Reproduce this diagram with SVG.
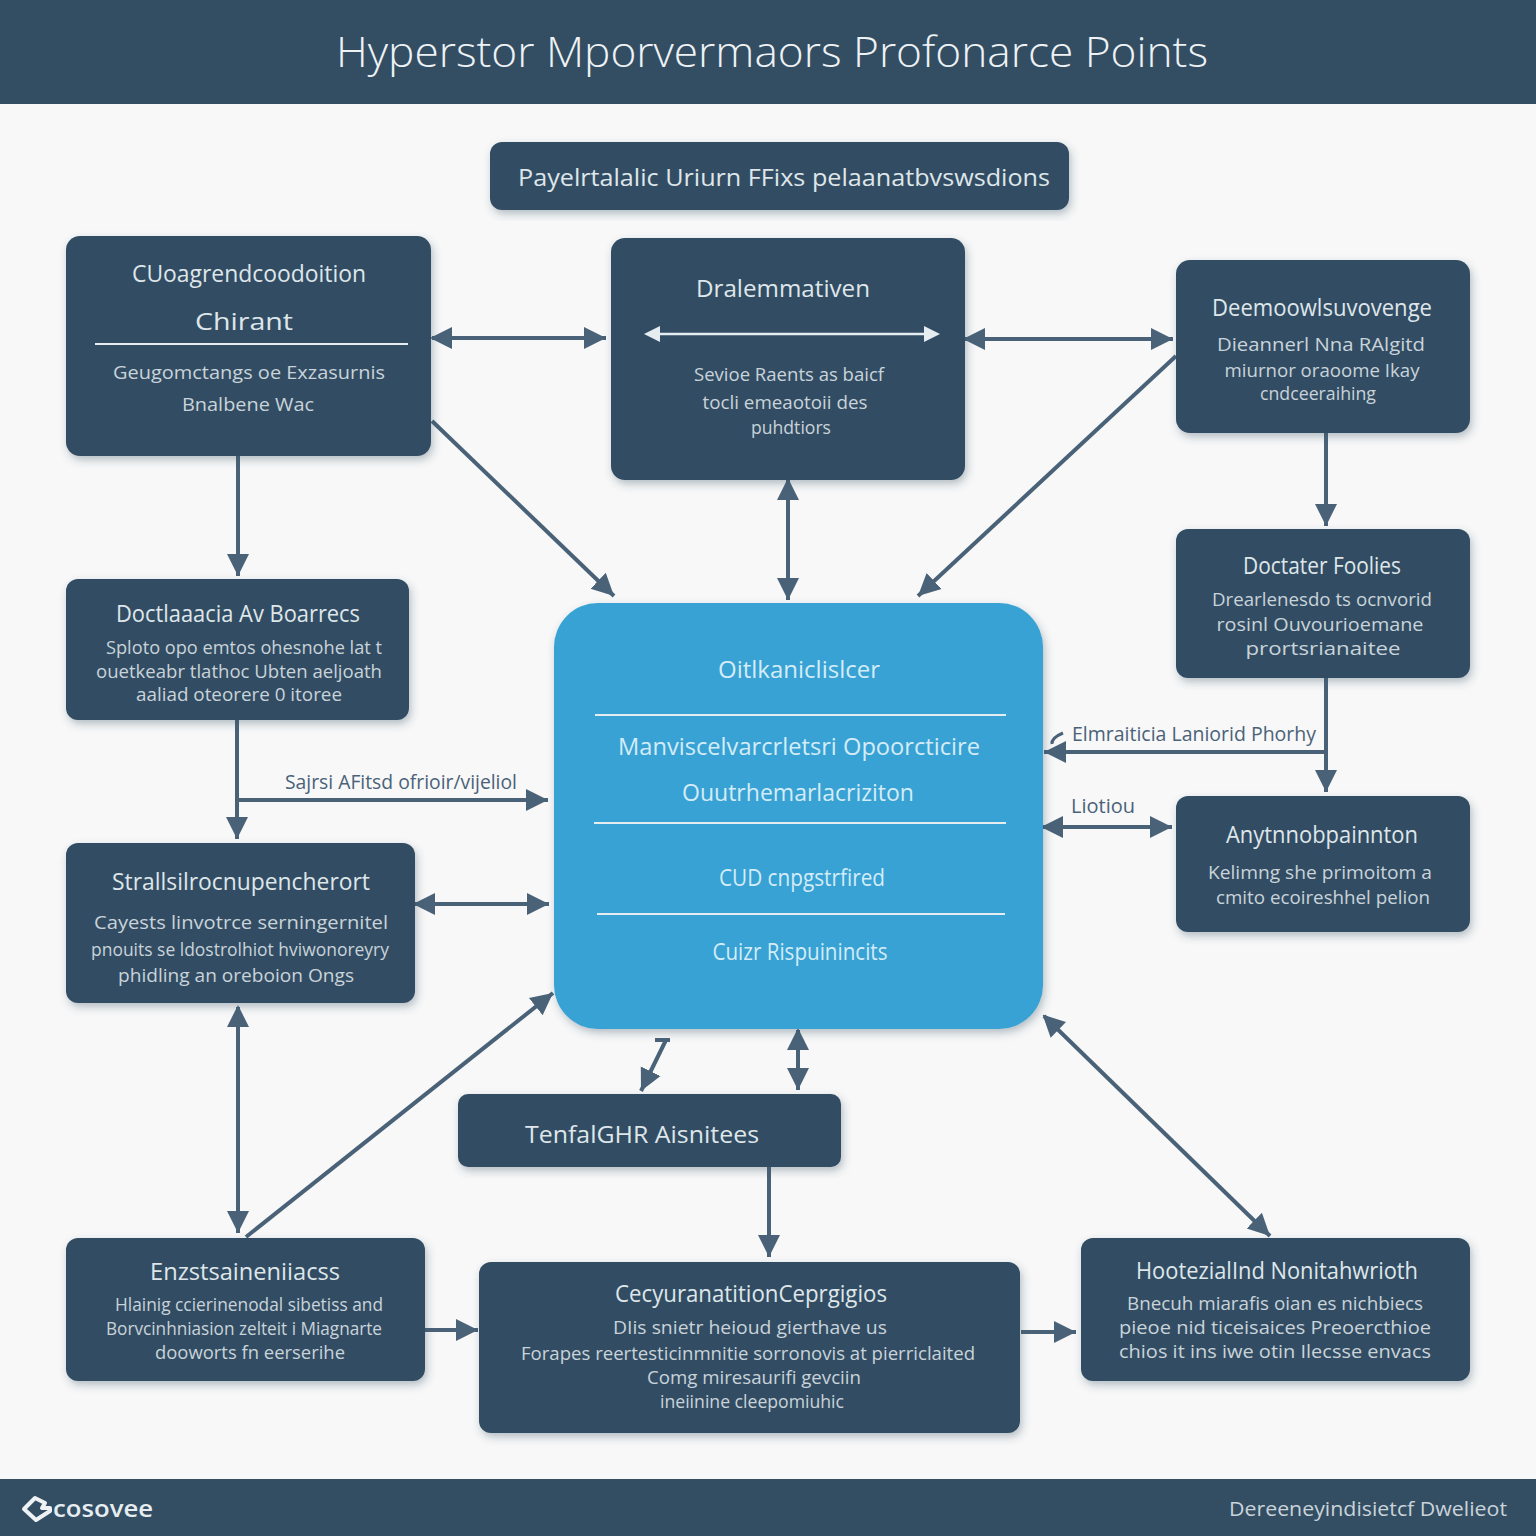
<svg xmlns="http://www.w3.org/2000/svg" width="1536" height="1536" viewBox="0 0 1536 1536">
<style>
text{font-family:"Open Sans","DejaVu Sans",sans-serif;text-anchor:middle;fill:#dfe6ea}
.b{fill:#334e63;filter:url(#s)}
.c{fill:#37a2d4;filter:url(#s)}
.h{font-size:24px}
.m{font-size:19px;fill:#c9d3da}
.l{font-size:20px;fill:#4a6278}
.w{fill:#d4ecf7}
.r{stroke:#e6edf1;stroke-width:2;fill:none}
.a{stroke:#4a6278;stroke-width:4;fill:none}
.d{marker-end:url(#e)}
.t{marker-end:url(#e);marker-start:url(#st)}
</style>
<defs>
<filter id="s" x="-10%" y="-10%" width="120%" height="125%"><feDropShadow dx="2" dy="4" stdDeviation="4" flood-color="#334e63" flood-opacity="0.35"/></filter>
<marker id="e" markerUnits="userSpaceOnUse" markerWidth="24" markerHeight="24" refX="22" refY="12" orient="auto"><path d="M0 1L22 12L0 23Z" fill="#4a6278"/></marker>
<marker id="st" markerUnits="userSpaceOnUse" markerWidth="24" markerHeight="24" refX="2" refY="12" orient="auto"><path d="M22 1L0 12L22 23Z" fill="#4a6278"/></marker>
</defs>
<rect width="1536" height="1536" fill="#f8f8f8"/>
<g id="header"><rect width="1536" height="104" fill="#334e63"/><text x="772" y="67" font-size="43" font-weight="300" textLength="872" lengthAdjust="spacingAndGlyphs" style="fill:#eef2f5">Hyperstor Mporvermaors Profonarce Points</text></g>
<g id="connectors">
<path class="a t" d="M432 338H606"/>
<path class="a t" d="M965 339H1173"/>
<path class="a d" d="M432 421L614 596"/>
<path class="a d" d="M1176 356L918 596"/>
<path class="a t" d="M788 480V600"/>
<path class="a d" d="M1326 433V526"/>
<path class="a d" d="M238 456V576"/>
<path class="a d" d="M237 720V839"/>
<path class="a d" d="M237 800H548"/>
<path class="a d" d="M1326 678V792"/>
<path class="a d" d="M1326 752H1044"/>
<path d="M1063 733Q1051 738 1052 744" stroke="#4a6278" stroke-width="3" fill="none"/>
<path class="a t" d="M1043 827H1172"/>
<path class="a t" d="M415 904H549"/>
<path class="a t" d="M238 1007V1233"/>
<path class="a d" d="M246 1237L553 993"/>
<path class="a t" d="M1044 1016L1270 1236"/>
<path class="a d" d="M666 1040L641 1091"/>
<path d="M655 1040H670" stroke="#4a6278" stroke-width="4"/>
<path class="a t" d="M798 1030V1090"/>
<path class="a d" d="M769 1167V1257"/>
<path class="a d" d="M425 1330H478"/>
<path class="a d" d="M1021 1332H1076"/>
</g>
<g id="top-banner"><rect class="b" x="490" y="142" width="579" height="68" rx="12"/><text class="h" x="784" y="186" textLength="532" lengthAdjust="spacingAndGlyphs">Payelrtalalic Uriurn FFixs pelaanatbvswsdions</text></g>
<g id="n1"><rect class="b" x="66" y="236" width="365" height="220" rx="14"/>
<text class="h" x="249" y="282" textLength="234" lengthAdjust="spacingAndGlyphs">CUoagrendcoodoition</text>
<text class="h" x="244" y="330" textLength="98" lengthAdjust="spacingAndGlyphs">Chirant</text>
<path class="r" d="M95 344H408"/>
<text class="m" x="249" y="379" textLength="272" lengthAdjust="spacingAndGlyphs">Geugomctangs oe Exzasurnis</text>
<text class="m" x="248" y="411" textLength="132" lengthAdjust="spacingAndGlyphs">Bnalbene Wac</text></g>
<g id="n2"><rect class="b" x="611" y="238" width="354" height="242" rx="14"/>
<text class="h" x="783" y="297" textLength="174" lengthAdjust="spacingAndGlyphs">Dralemmativen</text>
<path d="M658 334H926" stroke="#e6edf1" stroke-width="2.5"/><path d="M644 334L660 326V342ZM940 334L924 326V342Z" fill="#e6edf1"/>
<text class="m" x="789" y="381" textLength="190" lengthAdjust="spacingAndGlyphs">Sevioe Raents as baicf</text>
<text class="m" x="785" y="409" textLength="165" lengthAdjust="spacingAndGlyphs">tocli emeaotoii des</text>
<text class="m" x="791" y="434" textLength="80" lengthAdjust="spacingAndGlyphs">puhdtiors</text></g>
<g id="n3"><rect class="b" x="1176" y="260" width="294" height="173" rx="14"/>
<text class="h" x="1322" y="316" textLength="220" lengthAdjust="spacingAndGlyphs">Deemoowlsuvovenge</text>
<text class="m" x="1321" y="351" textLength="208" lengthAdjust="spacingAndGlyphs">Dieannerl Nna RAlgitd</text>
<text class="m" x="1322" y="377" textLength="195" lengthAdjust="spacingAndGlyphs">miurnor oraoome Ikay</text>
<text class="m" x="1318" y="400" textLength="116" lengthAdjust="spacingAndGlyphs">cndceeraihing</text></g>
<g id="n4"><rect class="b" x="66" y="579" width="343" height="141" rx="12"/>
<text class="h" x="238" y="622" textLength="244" lengthAdjust="spacingAndGlyphs">Doctlaaacia Av Boarrecs</text>
<text class="m" x="244" y="654" textLength="276" lengthAdjust="spacingAndGlyphs">Sploto opo emtos ohesnohe lat t</text>
<text class="m" x="239" y="678" textLength="286" lengthAdjust="spacingAndGlyphs">ouetkeabr tlathoc Ubten aeljoath</text>
<text class="m" x="239" y="701" textLength="206" lengthAdjust="spacingAndGlyphs">aaliad oteorere 0 itoree</text></g>
<g id="n5"><rect class="b" x="1176" y="529" width="294" height="149" rx="12"/>
<text class="h" x="1322" y="574" textLength="158" lengthAdjust="spacingAndGlyphs">Doctater Foolies</text>
<text class="m" x="1322" y="606" textLength="220" lengthAdjust="spacingAndGlyphs">Drearlenesdo ts ocnvorid</text>
<text class="m" x="1320" y="631" textLength="207" lengthAdjust="spacingAndGlyphs">rosinl Ouvourioemane</text>
<text class="m" x="1323" y="655" textLength="155" lengthAdjust="spacingAndGlyphs">prortsrianaitee</text></g>
<g id="center"><rect class="c" x="554" y="603" width="489" height="426" rx="44"/>
<text class="h w" x="799" y="678" textLength="162" lengthAdjust="spacingAndGlyphs">Oitlkaniclislcer</text>
<path class="r" d="M595 715H1006"/>
<text class="h w" x="799" y="755" textLength="362" lengthAdjust="spacingAndGlyphs">Manviscelvarcrletsri Opoorcticire</text>
<text class="h w" x="798" y="801" textLength="232" lengthAdjust="spacingAndGlyphs">Ouutrhemarlacriziton</text>
<path class="r" d="M594 823H1006"/>
<text class="h w" x="802" y="886" textLength="166" lengthAdjust="spacingAndGlyphs">CUD cnpgstrfired</text>
<path class="r" d="M597 914H1005"/>
<text class="h w" x="800" y="960" textLength="175" lengthAdjust="spacingAndGlyphs">Cuizr Rispuinincits</text></g>
<g id="edge-labels">
<text class="l" x="401" y="789" textLength="232" lengthAdjust="spacingAndGlyphs">Sajrsi AFitsd ofrioir/vijeliol</text>
<text class="l" x="1194" y="741" textLength="244" lengthAdjust="spacingAndGlyphs">Elmraiticia Laniorid Phorhy</text>
<text class="l" x="1103" y="813" textLength="64" lengthAdjust="spacingAndGlyphs">Liotiou</text></g>
<g id="n6"><rect class="b" x="1176" y="796" width="294" height="136" rx="12"/>
<text class="h" x="1322" y="843" textLength="192" lengthAdjust="spacingAndGlyphs">Anytnnobpainnton</text>
<text class="m" x="1320" y="879" textLength="224" lengthAdjust="spacingAndGlyphs">Kelimng she primoitom a</text>
<text class="m" x="1323" y="904" textLength="214" lengthAdjust="spacingAndGlyphs">cmito ecoireshhel pelion</text></g>
<g id="n7"><rect class="b" x="66" y="843" width="349" height="160" rx="12"/>
<text class="h" x="241" y="890" textLength="258" lengthAdjust="spacingAndGlyphs">Strallsilrocnupencherort</text>
<text class="m" x="241" y="929" textLength="294" lengthAdjust="spacingAndGlyphs">Cayests linvotrce serningernitel</text>
<text class="m" x="240" y="956" textLength="298" lengthAdjust="spacingAndGlyphs">pnouits se ldostrolhiot hviwonoreyry</text>
<text class="m" x="236" y="982" textLength="236" lengthAdjust="spacingAndGlyphs">phidling an oreboion Ongs</text></g>
<g id="n8"><rect class="b" x="458" y="1094" width="383" height="73" rx="10"/>
<text class="h" x="642" y="1143" textLength="234" lengthAdjust="spacingAndGlyphs">TenfalGHR Aisnitees</text></g>
<g id="n9"><rect class="b" x="66" y="1238" width="359" height="143" rx="12"/>
<text class="h" x="245" y="1280" textLength="190" lengthAdjust="spacingAndGlyphs">Enzstsaineniiacss</text>
<text class="m" x="249" y="1311" textLength="268" lengthAdjust="spacingAndGlyphs">Hlainig ccierinenodal sibetiss and</text>
<text class="m" x="244" y="1335" textLength="276" lengthAdjust="spacingAndGlyphs">Borvcinhniasion zelteit i Miagnarte</text>
<text class="m" x="250" y="1359" textLength="190" lengthAdjust="spacingAndGlyphs">dooworts fn eerserihe</text></g>
<g id="n10"><rect class="b" x="479" y="1262" width="541" height="171" rx="12"/>
<text class="h" x="751" y="1302" textLength="272" lengthAdjust="spacingAndGlyphs">CecyuranatitionCeprgigios</text>
<text class="m" x="750" y="1334" textLength="274" lengthAdjust="spacingAndGlyphs">DIis snietr heioud gierthave us</text>
<text class="m" x="748" y="1360" textLength="454" lengthAdjust="spacingAndGlyphs">Forapes reertesticinmnitie sorronovis at pierriclaited</text>
<text class="m" x="754" y="1384" textLength="214" lengthAdjust="spacingAndGlyphs">Comg miresaurifi gevciin</text>
<text class="m" x="752" y="1408" textLength="184" lengthAdjust="spacingAndGlyphs">ineiinine cleepomiuhic</text></g>
<g id="n11"><rect class="b" x="1081" y="1238" width="389" height="143" rx="12"/>
<text class="h" x="1277" y="1279" textLength="282" lengthAdjust="spacingAndGlyphs">HootezialInd Nonitahwrioth</text>
<text class="m" x="1275" y="1310" textLength="296" lengthAdjust="spacingAndGlyphs">Bnecuh miarafis oian es nichbiecs</text>
<text class="m" x="1275" y="1334" textLength="312" lengthAdjust="spacingAndGlyphs">pieoe nid ticeisaices Preoercthioe</text>
<text class="m" x="1275" y="1358" textLength="312" lengthAdjust="spacingAndGlyphs">chios it ins iwe otin Ilecsse envacs</text></g>
<g id="footer"><rect y="1479" width="1536" height="57" fill="#334e63"/>
<path d="M24 1509L35 1498L45 1503L42 1508H50V1511L36 1520Z" fill="none" stroke="#eef2f5" stroke-width="4" stroke-linejoin="round"/>
<text x="103" y="1517" font-size="24" textLength="100" lengthAdjust="spacingAndGlyphs" style="fill:#e6edf1;font-weight:600">cosovee</text>
<text x="1368" y="1516" font-size="20" textLength="278" lengthAdjust="spacingAndGlyphs" style="fill:#c9d3da">Dereeneyindisietcf Dwelieot</text></g>
</svg>
